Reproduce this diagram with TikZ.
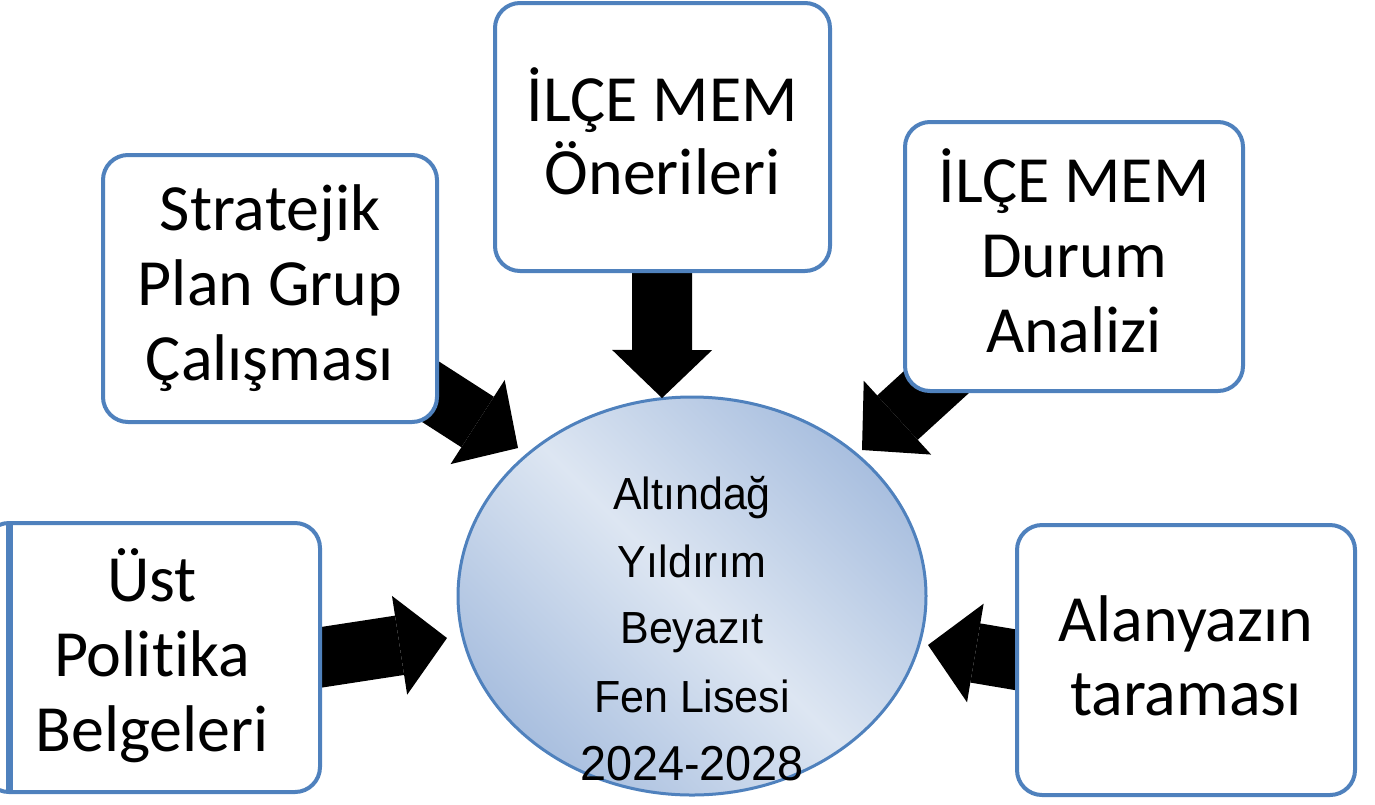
\documentclass[tikz,border=0pt]{standalone}
\usepackage{fontspec}
\setmainfont{Carlito}[Ligatures=NoCommon]
\newfontfamily\arialfont{Liberation Sans}[FakeStretch=0.955]
\usetikzlibrary{arrows.meta,shapes.geometric,calc}
\pgfdeclarelayer{back}
\pgfsetlayers{back,main}
\definecolor{boxblue}{HTML}{4F81BD}
\definecolor{ellin}{HTML}{DDE6F2}
\definecolor{ellout}{HTML}{A9BFDF}
\begin{document}
\begin{tikzpicture}[x=1pt,y=-1pt,
  box/.style={draw=boxblue, line width=4pt, fill=white, rounded corners=25pt,
    inner sep=0pt, outer sep=0pt},
  boxtext/.style={align=center, inner sep=0pt, font=\fontsize{66}{75}\selectfont},
  blockarrow/.style={draw=black, line width=60pt,
    -{Triangle[width=100pt,length=48pt,line width=0pt]}},
  elltext/.style={font=\arialfont\fontsize{45}{50}\selectfont, anchor=base, inner sep=0pt},
  ellbox/.style={ellipse, draw=boxblue, line width=3pt, shading=axis,
    top color=ellout, bottom color=ellout, middle color=ellin, shading angle=-45,
    inner sep=0pt, outer sep=0pt}
]
\useasboundingbox (0,0) rectangle (1375,804);

% boxes
\node[box, minimum width=334pt, minimum height=267pt] (strat) at (270,288.5) {};
\node[boxtext] (strat-t) at (270,288.5) {Stratejik\\Plan Grup\\Çalışması};
\node[box, minimum width=335pt, minimum height=268pt] (ilce) at (662.5,137) {};
\node[boxtext, font=\fontsize{66}{73}\selectfont] (ilce-t) at (662.5,131) {İLÇE MEM\\Önerileri};
\node[box, minimum width=338pt, minimum height=269pt] (durum) at (1074,256.5) {};
\node[boxtext] (durum-t) at (1074,250.5) {İLÇE MEM\\Durum\\Analizi};
\node[box, minimum width=336pt, minimum height=269pt] (ust) at (152,657.5) {};
\draw[boxblue, line width=7pt] ([xshift=25pt]ust.north west) -- ([xshift=25pt]ust.south west);
\node[boxtext] (ust-t) at (152,656) {Üst\\Politika\\Belgeleri};
\node[box, minimum width=338pt, minimum height=270pt] (alan) at (1186,660) {};
\node[boxtext, font=\fontsize{66}{74}\selectfont] (alan-t) at (1186,656) {Alanyazın\\taraması};

% arrow tips
\coordinate (t1) at (662,398);
\coordinate (t2) at (518,448);
\coordinate (t3) at (862,450);
\coordinate (t4) at (447,638);
\coordinate (t5) at (928,645);

\begin{pgfonlayer}{back}
  \node[ellbox, minimum width=468pt, minimum height=398pt] (ell) at (692,596) {};
  \draw[blockarrow] (ilce.center) -- (t1);
  \draw[blockarrow] (strat.center) -- (t2);
  \draw[blockarrow] (durum.center) -- (t3);
  \draw[blockarrow] ($(ust.east)!-20pt!(t4)$) -- (t4);
  \draw[blockarrow] ($(alan.west)!-20pt!(t5)$) -- (t5);
\end{pgfonlayer}

% ellipse text
\node[elltext] (e1) at (692,509) {Altındağ};
\node[elltext] (e2) at (692,577) {Yıldırım};
\node[elltext] (e3) at (692,643) {Beyazıt};
\node[elltext] (e4) at (692,712) {Fen Lisesi};
\node[elltext, font=\arialfont\fontsize{49}{54}\selectfont] (e5) at (692,780) {2024-2028};
\end{tikzpicture}
\end{document}
